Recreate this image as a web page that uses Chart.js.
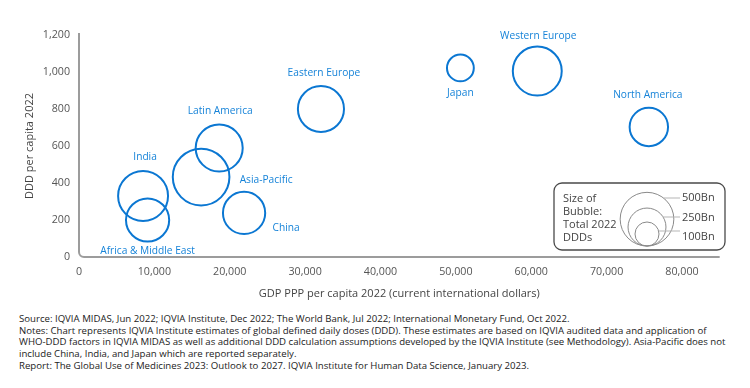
<!DOCTYPE html>
<html>
<head>
<meta charset="utf-8">
<script src="https://cdn.jsdelivr.net/npm/chart.js@4/dist/chart.umd.min.js"></script>
<style>
  html, body { margin: 0; padding: 0; background: #fff; }
  #wrap { position: relative; width: 750px; height: 388px; }
  #chartBox { position: absolute; left: 0; top: 0; width: 750px; height: 300px; }
  #notes {
    position: absolute; left: 19px; top: 313px; width: 725px;
    font-family: "Open Sans", sans-serif; font-size: 9.65px; line-height: 11.7px; color: #222;
    white-space: nowrap;
  }
  #notes p { margin: 0; }
</style>
</head>
<body>
<div id="wrap">
  <div id="chartBox"><canvas id="bubbleChart"></canvas></div>
  <div id="notes">
    <p>Source: IQVIA MIDAS, Jun 2022; IQVIA Institute, Dec 2022; The World Bank, Jul 2022; International Monetary Fund, Oct 2022.</p>
    <p>Notes: Chart represents IQVIA Institute estimates of global defined daily doses (DDD). These estimates are based on IQVIA audited data and application of<br>WHO-DDD factors in IQVIA MIDAS as well as additional DDD calculation assumptions developed by the IQVIA Institute (see Methodology). Asia-Pacific does not<br>include China, India, and Japan which are reported separately.</p>
    <p>Report: The Global Use of Medicines 2023: Outlook to 2027. IQVIA Institute for Human Data Science, January 2023.</p>
  </div>
</div>
<script>
// Data
const regions = ['India', 'Africa & Middle East', 'Asia-Pacific', 'Latin America', 'China', 'Eastern Europe', 'Japan', 'Western Europe', 'North America'];
const gdpPerCapita = [8500, 9100, 16200, 18600, 21900, 32100, 50600, 60800, 75600];
const dddPerCapita = [330, 200, 432, 589, 238, 800, 1022, 1005, 703];
const totalDDDsBn = [433, 324, 557, 384, 310, 369, 125, 416, 256];
const xTickValues = [0, 10000, 20000, 30000, 40000, 50000, 60000, 70000, 80000];
const legendSizesBn = [500, 250, 100];
const legendLabels = ['500Bn', '250Bn', '100Bn'];
const legendTitle = ['Size of', 'Bubble:', 'Total 2022', 'DDDs'];

const BLUE = '#0b77d2';
const LABEL_BLUE = '#1683d8';
const FONT = '"Open Sans", sans-serif';
const SIZE_K = 1.2; // radius px per sqrt(Bn)

function radiusFor(bn) {
    return SIZE_K * Math.sqrt(bn);
}

function withCommas(v) {
    return String(Math.round(v)).replace(/\B(?=(\d{3})+(?!\d))/g, ',');
}

// where each region's label sits relative to its bubble (px)
const labelOffsets = {
    'India': [2, -39],
    'Africa & Middle East': [0, 31],
    'Asia-Pacific': [65, 3],
    'Latin America': [1, -37],
    'China': [42, 15],
    'Eastern Europe': [3, -36],
    'Japan': [0, 25],
    'Western Europe': [1, -35],
    'North America': [-1, -32]
};

const points = regions.map((name, i) => ({
    x: gdpPerCapita[i],
    y: dddPerCapita[i],
    r: radiusFor(totalDDDsBn[i])
}));

// Axis lines with the rounded corner, plus x tick labels
const axisLines = {
    id: 'axisLines',
    beforeDatasetsDraw(chart) {
        const { ctx, chartArea } = chart;
        const l = chartArea.left, b = chartArea.bottom;
        ctx.save();
        ctx.strokeStyle = '#9c9c9c';
        ctx.lineWidth = 2;
        ctx.beginPath();
        ctx.moveTo(l, chartArea.top - 2);
        ctx.lineTo(l, b - 5);
        ctx.arcTo(l, b, l + 5, b, 5);
        ctx.lineTo(chartArea.right, b);
        ctx.stroke();

        const xScale = chart.scales.x;
        ctx.font = '10.7px ' + FONT;
        ctx.fillStyle = '#555';
        ctx.textAlign = 'center';
        ctx.textBaseline = 'middle';
        xTickValues.forEach(v => {
            ctx.fillText(withCommas(v), xScale.getPixelForValue(v), b + 15);
        });
        ctx.restore();
    }
};

// Region names next to bubbles
const bubbleLabels = {
    id: 'bubbleLabels',
    afterDatasetsDraw(chart) {
        const { ctx } = chart;
        const meta = chart.getDatasetMeta(0);
        ctx.save();
        ctx.font = '10.2px ' + FONT;
        ctx.fillStyle = LABEL_BLUE;
        ctx.textAlign = 'center';
        ctx.textBaseline = 'middle';
        meta.data.forEach((el, i) => {
            const off = labelOffsets[regions[i]];
            ctx.fillText(regions[i], el.x + off[0], el.y + off[1]);
        });
        ctx.restore();
    }
};

// Bubble size key in the lower right
const sizeKey = {
    id: 'sizeKey',
    afterDraw(chart) {
        const { ctx } = chart;
        const box = { x: 554, y: 183, w: 171, h: 67 };
        ctx.save();
        ctx.strokeStyle = '#4a4a4a';
        ctx.lineWidth = 1.3;
        ctx.fillStyle = '#fff';
        ctx.beginPath();
        ctx.roundRect(box.x, box.y, box.w, box.h, 8);
        ctx.fill();
        ctx.stroke();

        ctx.font = '11px ' + FONT;
        ctx.fillStyle = '#444';
        ctx.textAlign = 'left';
        ctx.textBaseline = 'middle';
        legendTitle.forEach((t, i) => ctx.fillText(t, 563, 199 + i * 13));

        const cx = 647, bottom = 246;
        const lineY = [198, 217, 231];
        const textY = [198, 218, 237];
        ctx.lineWidth = 1;
        legendSizesBn.forEach((bn, i) => {
            const r = radiusFor(bn);
            const cy = bottom - r;
            ctx.strokeStyle = '#8a8a8a';
            ctx.beginPath();
            ctx.arc(cx, cy, r, 0, Math.PI * 2);
            ctx.stroke();
            const dy = lineY[i] - cy;
            const dx = Math.sqrt(Math.max(r * r - dy * dy, 0));
            ctx.strokeStyle = '#b5b5b5';
            ctx.beginPath();
            ctx.moveTo(cx + dx, lineY[i]);
            ctx.lineTo(680, lineY[i]);
            ctx.stroke();
            ctx.fillText(legendLabels[i], 682, textY[i]);
        });
        ctx.restore();
    }
};

new Chart(document.getElementById('bubbleChart'), {
    type: 'bubble',
    data: {
        datasets: [{
            data: points,
            backgroundColor: 'rgba(0,0,0,0)',
            borderColor: BLUE,
            borderWidth: 2,
            hoverBorderWidth: 2
        }]
    },
    options: {
        responsive: true,
        maintainAspectRatio: false,
        animation: false,
        layout: { padding: { top: 35, right: 19, left: 0, bottom: 0 } },
        plugins: {
            legend: { display: false },
            tooltip: { enabled: false }
        },
        elements: { point: { hoverRadius: 0 } },
        scales: {
            x: {
                type: 'linear',
                min: 0,
                max: 85000,
                afterFit(scale) { scale.height = 43; },
                grid: { display: false, drawTicks: false },
                border: { display: false },
                ticks: { display: false },
                title: {
                    display: true,
                    text: 'GDP PPP per capita 2022 (current international dollars)',
                    color: '#444',
                    font: { family: FONT, size: 11 },
                    padding: { top: 0, bottom: 0 }
                }
            },
            y: {
                type: 'linear',
                min: 0,
                max: 1200,
                afterFit(scale) { scale.width = 79; },
                grid: { display: false, drawTicks: false },
                border: { display: false },
                ticks: {
                    stepSize: 200,
                    padding: 9,
                    color: '#555',
                    font: { family: FONT, size: 10.7 },
                    callback: v => withCommas(v)
                },
                title: {
                    display: true,
                    text: 'DDD per capita 2022',
                    color: '#444',
                    font: { family: FONT, size: 11 },
                    padding: { top: 23, bottom: 0 }
                }
            }
        }
    },
    plugins: [axisLines, bubbleLabels, sizeKey]
});
</script>
</body>
</html>
